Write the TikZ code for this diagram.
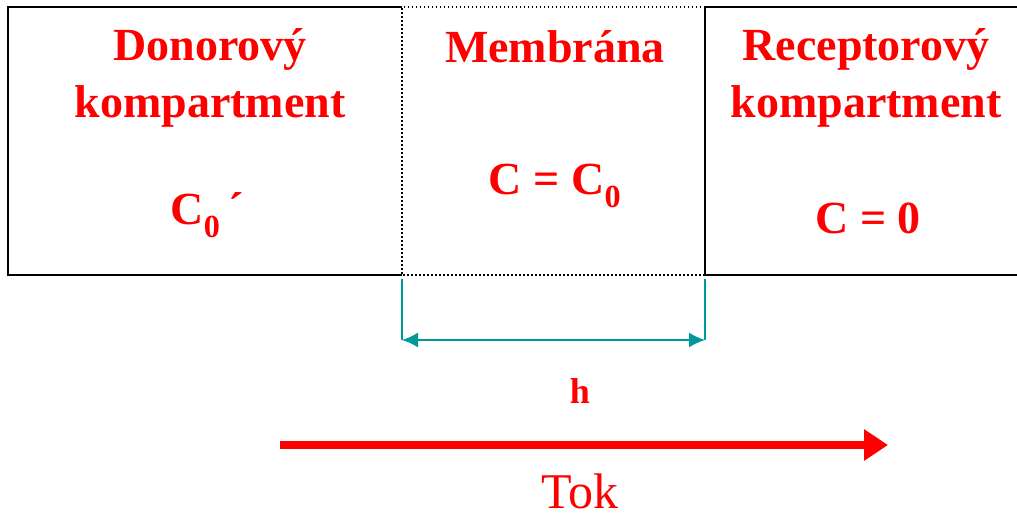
\documentclass[tikz,border=0pt]{standalone}
\usepackage{fontspec}
\setmainfont{Liberation Serif}
\usepackage{xcolor}
\usetikzlibrary{arrows.meta}
\definecolor{tokred}{RGB}{255,0,0}
\definecolor{dimteal}{RGB}{0,153,153}
\tikzset{
	label text/.style={text=tokred, font=\bfseries\fontsize{46}{57}\selectfont, align=center},
	dim line/.style={dimteal, line width=1.6pt}
}

\begin{document}
\begin{tikzpicture}[x=1pt, y=-1pt]
		\useasboundingbox (0,0) rectangle (1017,520);
		% komparty a membrana
		\coordinate (dtl) at (8,7);     \coordinate (dbl) at (8,275);
		\coordinate (mtl) at (402,7);   \coordinate (mbl) at (402,275);
		\coordinate (mtr) at (705,7);   \coordinate (mbr) at (705,275);
		\coordinate (rtr) at (1020,7);  \coordinate (rbr) at (1020,275);
		\draw [line width=1.6pt] (mtl) -- (dtl) -- (dbl) -- (mbl);
		\draw [line width=1.6pt] (rtr) -- (mtr) -- (mbr) -- (rbr);
		\draw [dash pattern=on 1.5pt off 2.5pt, line width=1.5pt] (mtr) -- (mtl) -- (mbl) -- (mbr);
		
		\node[label text] (donor) at (210,78) {Donorový\\kompartment};
		\node[label text] (cdonor) at (207,215) {C\textsubscript{0}\,´};
		\node[label text] (membr) at (555,47) {Membrána};
		\node[label text] (cmembr) at (555,186) {C = C\textsubscript{0}};
		\node[label text] (recep) at (866,78) {Receptorový\\kompartment};
		\node[label text] (crecep) at (868,218) {C = 0};
		
		% tloustka membrany
		\coordinate (hl) at (402,340);
		\coordinate (hr) at (705,340);
		\draw [dim line] (mbl) ++(0,4) -- (hl);
		\draw [dim line] (mbr) ++(0,4) -- (hr);
		\draw [dim line, {Latex[length=16pt,width=15pt]}-{Latex[length=16pt,width=15pt]}] (hl) -- (hr);
		\node[label text, font=\bfseries\fontsize{36}{40}\selectfont] (h) at (580,391) {h};
		
		% tok
		\coordinate (tokstart) at (280,445);
		\coordinate (tokend) at (888,445);
		\draw [tokred, line width=8pt, -{Triangle[length=24pt,width=30pt]}] (tokstart) -- (tokend);
		\node[text=tokred, inner sep=0pt, font=\fontsize{50}{54}\selectfont] (tok) at (580,491) {Tok};
	\end{tikzpicture}
\end{document}
